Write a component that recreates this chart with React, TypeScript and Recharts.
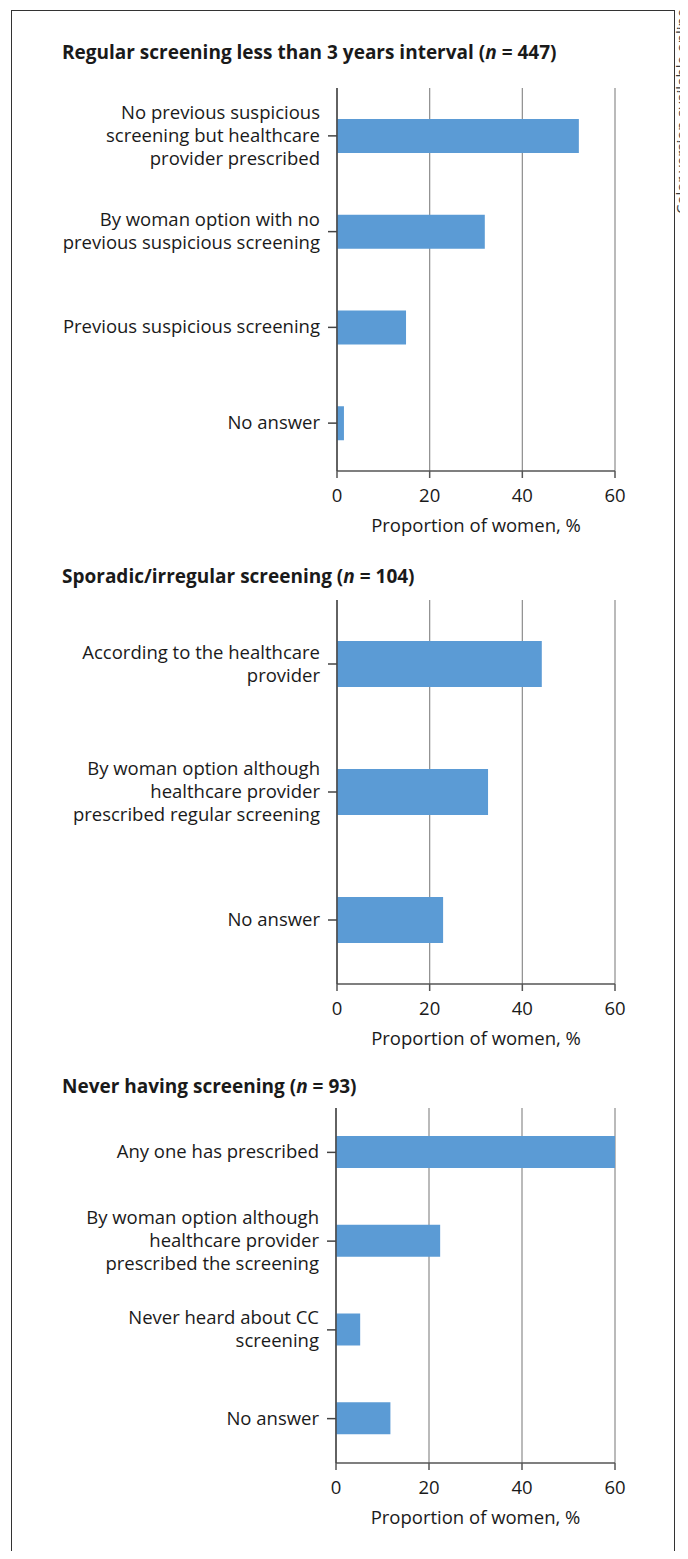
import React from "react";
import { Bar, BarChart, CartesianGrid, Label, XAxis, YAxis } from "recharts";

const FONT = "'Open Sans', 'DejaVu Sans', sans-serif";
const BAR = "#5b9bd5";
const INK = "#1a1a1a";
const FS = 18.5;

const regularLabels = [
  "No previous suspicious\nscreening but healthcare\nprovider prescribed",
  "By woman option with no\nprevious suspicious screening",
  "Previous suspicious screening",
  "No answer",
];
const regularValues = [52.2, 31.9, 14.9, 1.5];

const sporadicLabels = [
  "According to the healthcare\nprovider",
  "By woman option although\nhealthcare provider\nprescribed regular screening",
  "No answer",
];
const sporadicValues = [44.2, 32.6, 22.9];

const neverLabels = [
  "Any one has prescribed",
  "By woman option although\nhealthcare provider\nprescribed the screening",
  "Never heard about CC\nscreening",
  "No answer",
];
const neverValues = [60, 22.4, 5.2, 11.7];

const xTicks = [0, 20, 40, 60];

function WrapTick({ x, y, payload }: any) {
  const lines = String(payload.value).split("\n");
  const lh = 23;
  const start = -((lines.length - 1) * lh) / 2;
  return (
    <text x={x} y={y} textAnchor="end" fill={INK} fontSize={FS} fontFamily={FONT}>
      {lines.map((l, i) => (
        <tspan key={i} x={x} dy={i === 0 ? start + 6 : lh}>
          {l}
        </tspan>
      ))}
    </text>
  );
}

function Panel({
  top,
  plotHeight,
  barSize,
  labels,
  values,
  axisX = 337,
}: {
  top: number;
  plotHeight: number;
  barSize: number;
  labels: string[];
  values: number[];
  axisX?: number;
}) {
  const data = labels.map((name, i) => ({ name, value: values[i] }));
  return (
    <div style={{ position: "absolute", left: 0, top: top - 8 }}>
      <BarChart
        width={688}
        height={8 + plotHeight + 72}
        data={data}
        layout="vertical"
        margin={{ top: 8, right: 73, left: 0, bottom: 0 }}
      >
        <CartesianGrid horizontal={false} stroke="#8c8c8c" strokeWidth={1.2} />
        <XAxis
          type="number"
          domain={[0, 60]}
          ticks={xTicks}
          height={72}
          tickSize={7}
          tickMargin={11}
          tick={{ fontSize: FS, fill: INK, fontFamily: FONT }}
          axisLine={{ stroke: "#555", strokeWidth: 1.5 }}
          tickLine={{ stroke: "#555", strokeWidth: 1.5 }}
        >
          <Label
            value="Proportion of women, %"
            position="insideBottom"
            offset={11}
            style={{ fontSize: FS, fill: INK, fontFamily: FONT }}
          />
        </XAxis>
        <YAxis
          type="category"
          dataKey="name"
          width={axisX}
          tickSize={9}
          tickMargin={8}
          tick={<WrapTick />}
          axisLine={{ stroke: "#444", strokeWidth: 1.5 }}
          tickLine={{ stroke: "#444", strokeWidth: 1.5 }}
          interval={0}
        />
        <Bar dataKey="value" fill={BAR} barSize={barSize} isAnimationActive={false} />
      </BarChart>
    </div>
  );
}

const titleStyle: React.CSSProperties = {
  position: "absolute",
  left: 62,
  fontFamily: FONT,
  fontWeight: 700,
  fontSize: 19,
  color: INK,
  whiteSpace: "nowrap",
  lineHeight: "24px",
};

export default function App() {
  return (
    <div style={{ position: "relative", width: 688, height: 1559, margin: -8, background: "#fff", overflow: "hidden" }}>
      <div
        style={{
          position: "absolute",
          left: 11,
          top: 10,
          width: 662,
          height: 1600,
          borderLeft: "1.5px solid #333",
          borderTop: "1.5px solid #333",
          borderRight: "1.5px solid #333",
        }}
      />
      <svg style={{ position: "absolute", left: 664, top: 0 }} width={24} height={260}>
        <text
          transform="translate(22.5, 214) rotate(-90)"
          fontFamily={FONT}
          fontSize={15}
          fill="#3a3a3a"
        >
          Color version available online
        </text>
      </svg>

      <div style={{ ...titleStyle, top: 40 }}>
        Regular screening less than 3 years interval (<i>n</i> = 447)
      </div>
      <Panel top={88} plotHeight={383} barSize={34} labels={regularLabels} values={regularValues} />

      <div style={{ ...titleStyle, top: 564 }}>
        Sporadic/irregular screening (<i>n</i> = 104)
      </div>
      <Panel top={600} plotHeight={384} barSize={46} labels={sporadicLabels} values={sporadicValues} />

      <div style={{ ...titleStyle, top: 1074 }}>
        Never having screening (<i>n</i> = 93)
      </div>
      <Panel top={1108} plotHeight={355} barSize={32} labels={neverLabels} values={neverValues} axisX={336} />
    </div>
  );
}
